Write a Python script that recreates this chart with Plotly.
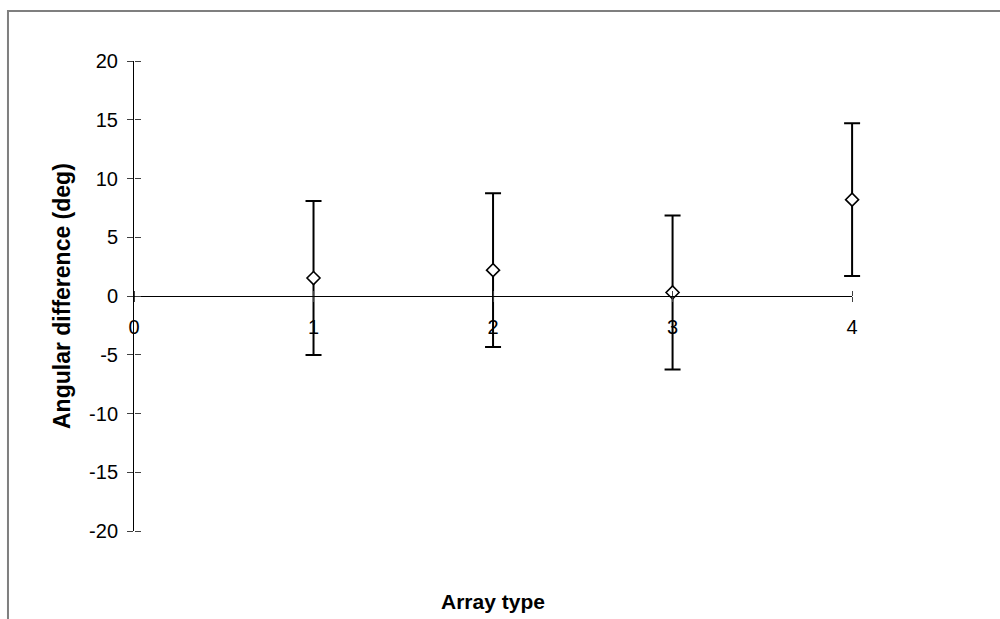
import plotly.graph_objects as go

array_type = [1, 2, 3, 4]
angular_diff = [1.53, 2.2, 0.3, 8.2]
error_sd = [6.55, 6.55, 6.55, 6.5]
x_ticks = [0, 1, 2, 3, 4]
y_ticks = [-20, -15, -10, -5, 0, 5, 10, 15, 20]
y_tick_text = ["-20", "-15", "-10", "-5", "0", "5", "10", "15", "20"]

W, H = 1000, 619
L, T, B = 134, 61, 88
X_END = 852            # pixel where x = 4 sits
EXTRA = 0.2            # extra data room so the last error bar is not clipped
x_max = max(x_ticks)
pw_axis = X_END - L
pw = pw_axis * (x_max + EXTRA) / x_max
R = W - L - pw
ph = H - T - B
dom_axis = x_max / (x_max + EXTRA)

FONT = "Liberation Sans, Arial, sans-serif"
TICKC = "#404040"

fig = go.Figure()
# invisible helper traces so the decorative axes are drawn
fig.add_trace(go.Scatter(x=array_type, y=angular_diff, xaxis="x2", yaxis="y",
                         mode="none", showlegend=False, hoverinfo="skip"))
fig.add_trace(go.Scatter(x=array_type, y=angular_diff, xaxis="x3", yaxis="y",
                         mode="none", showlegend=False, hoverinfo="skip"))
fig.add_trace(go.Scatter(x=array_type, y=angular_diff, xaxis="x2", yaxis="y2",
                         mode="none", showlegend=False, hoverinfo="skip"))
fig.add_trace(go.Scatter(
    x=array_type, y=angular_diff, mode="markers",
    marker=dict(symbol="diamond", size=10, color="white",
                line=dict(color="black", width=1.6)),
    error_y=dict(type="data", array=error_sd, visible=True,
                 color="black", thickness=2, width=8),
    showlegend=False, cliponaxis=False,
))

fig.update_layout(
    width=W, height=H,
    margin=dict(l=L, r=R, t=T, b=B),
    paper_bgcolor="white", plot_bgcolor="rgba(0,0,0,0)",
    font=dict(family=FONT, size=20, color="black"),
    # data axis (hidden)
    xaxis=dict(range=[0, x_max + EXTRA], domain=[0, 1], visible=False,
               showgrid=False, zeroline=False),
    # visible x axis with labels and outside ticks
    xaxis2=dict(range=[0, x_max], domain=[0, dom_axis], anchor="free", position=0.5,
                tickvals=x_ticks, ticktext=[str(v) for v in x_ticks],
                showgrid=False, zeroline=False, showline=True, linecolor="black",
                linewidth=1, ticks="outside", ticklen=5, tickcolor=TICKC,
                ticklabelstandoff=8, tickfont=dict(size=20)),
    # upper half of the crossing x ticks
    xaxis3=dict(range=[0, x_max], domain=[0, dom_axis], anchor="free", position=0.5,
                side="top", tickvals=x_ticks, showticklabels=False, showgrid=False,
                zeroline=False, showline=False, ticks="outside", ticklen=5,
                tickcolor=TICKC),
    yaxis=dict(range=[-20, 20], tickvals=y_ticks, ticktext=y_tick_text,
               domain=[0, 1],
               showgrid=False, zeroline=False, showline=True, linecolor="black",
               linewidth=1, ticks="outside", ticklen=6, tickcolor=TICKC,
               ticklabelstandoff=5, tickfont=dict(size=20)),
    # right half of the crossing y ticks
    yaxis2=dict(range=[-20, 20], tickvals=y_ticks, domain=[0, 1], anchor="free",
                position=0, side="right", showgrid=False, zeroline=False,
                showline=False, ticks="outside", ticklen=6, tickcolor=TICKC,
                showticklabels=False),
    annotations=[
        dict(text="<b>Array type</b>", xref="paper", yref="paper",
             x=(492.5 - L) / pw, y=(H - B - 601) / ph, xanchor="center",
             yanchor="middle", showarrow=False, font=dict(size=21)),
        dict(text="<b>Angular difference (deg)</b>", xref="paper", yref="paper",
             x=(62 - L) / pw, y=0.5, xanchor="center", yanchor="middle",
             textangle=-90, showarrow=False, font=dict(size=23)),
    ],
    shapes=[
        dict(type="rect", xref="paper", yref="paper",
             x0=(8 - L) / pw, x1=(1100 - L) / pw,
             y0=(H - B - 700) / ph, y1=(H - B - 11) / ph,
             line=dict(color="#7f7f7f", width=2), fillcolor="rgba(0,0,0,0)",
             layer="below"),
    ],
)

fig.write_html("out.html")
